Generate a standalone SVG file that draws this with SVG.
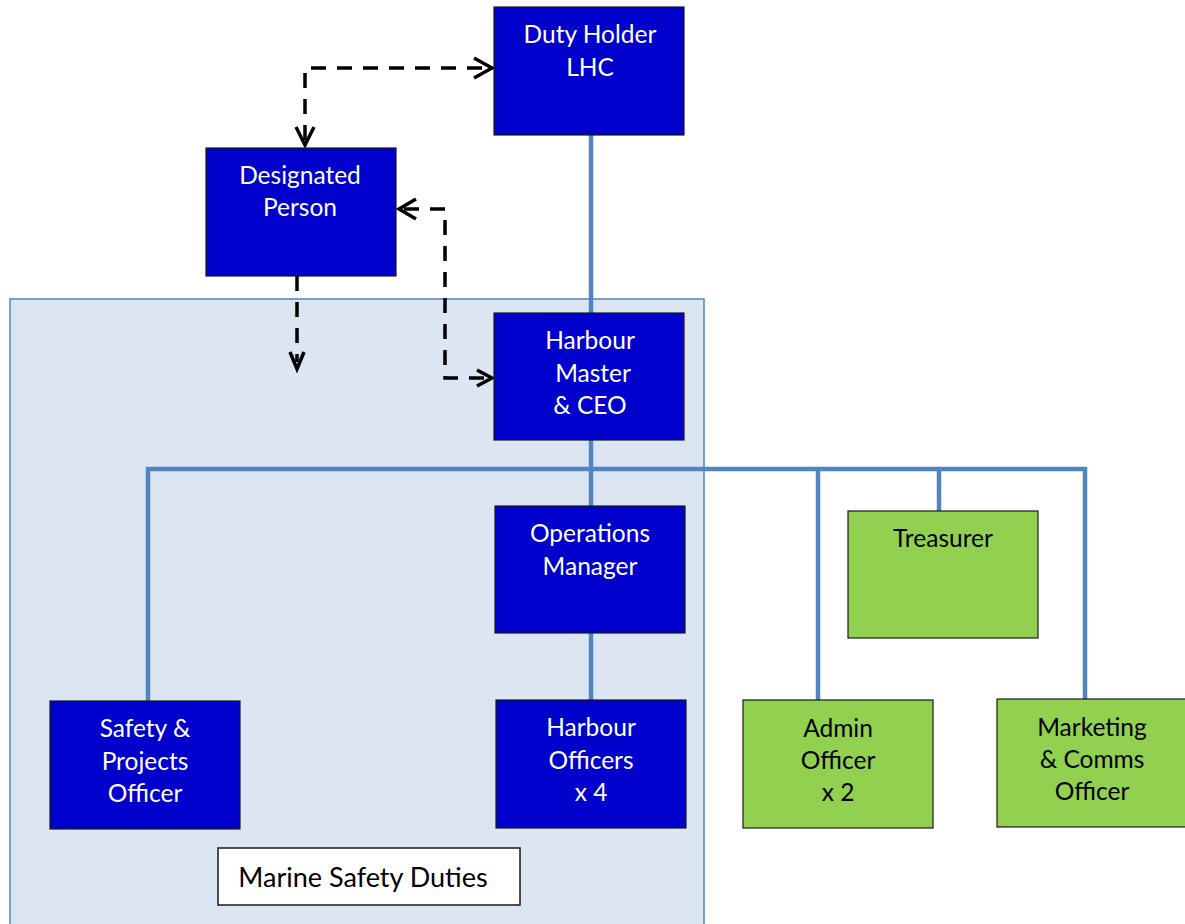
<svg xmlns="http://www.w3.org/2000/svg" width="1185" height="924" viewBox="0 0 1185 924">
<style>
.blue{fill:#0000cc;stroke:#1a1a1a;stroke-width:1.2}
.green{fill:#92d050;stroke:#1a1a1a;stroke-width:1.2}
.tw{fill:#ffffff;font-family:Lato,"Open Sans",sans-serif;font-size:24.5px;text-anchor:middle}
.tb{fill:#000000;font-family:Lato,"Open Sans",sans-serif;font-size:24.5px;text-anchor:middle}
.conn{stroke:#5284c0;stroke-width:4.5;fill:none}
.dash{stroke:#000;stroke-width:3.5;fill:none;stroke-dasharray:15 11}
.head{stroke:#000;stroke-width:3.5;fill:none}
</style>
<rect width="1185" height="924" fill="#ffffff"/>
<g id="marine-safety-area">
<rect x="10" y="299" width="694" height="640" fill="#dce6f2" stroke="#5284c0" stroke-width="1.5"/>
</g>
<g id="connectors">
<path class="conn" d="M591 135 V313"/>
<path class="conn" d="M591 440 V506"/>
<path class="conn" d="M148 701 V469 H1085 V699"/>
<path class="conn" d="M818 469 V700"/>
<path class="conn" d="M939 469 V511"/>
<path class="conn" d="M591 633 V700"/>
<path class="dash" d="M305 140 V68 H486"/>
<path class="head" d="M474 58 L492 68 L474 78"/>
<path class="head" d="M296 127 L305 145 L314 127"/>
<path class="dash" d="M404 209 H445 V378 H486"/>
<path class="head" d="M416 199 L399 209 L416 219"/>
<path class="head" d="M477 370 L492 378 L477 386"/>
<path class="dash" d="M297 276 V362"/>
<path class="head" d="M290 352 L297 369 L304 352"/>
</g>
<g id="duty-holder">
<rect class="blue" x="494" y="7" width="190" height="128"/>
<text class="tw" x="590" y="43">Duty Holder</text>
<text class="tw" x="590" y="76">LHC</text>
</g>
<g id="designated-person">
<rect class="blue" x="206" y="148" width="190" height="128"/>
<text class="tw" x="300" y="184">Designated</text>
<text class="tw" x="300" y="216">Person</text>
</g>
<g id="harbour-master">
<rect class="blue" x="494" y="313" width="190" height="127"/>
<text class="tw" x="590" y="349">Harbour</text>
<text class="tw" x="593" y="382">Master</text>
<text class="tw" x="590" y="414">&amp; CEO</text>
</g>
<g id="operations-manager">
<rect class="blue" x="495" y="506" width="190" height="127"/>
<text class="tw" x="590" y="542">Operations</text>
<text class="tw" x="590" y="575">Manager</text>
</g>
<g id="treasurer">
<rect class="green" x="848" y="511" width="190" height="127"/>
<text class="tb" x="943" y="547">Treasurer</text>
</g>
<g id="safety-projects-officer">
<rect class="blue" x="50" y="701" width="190" height="128"/>
<text class="tw" x="145" y="737">Safety &amp;</text>
<text class="tw" x="145" y="770">Projects</text>
<text class="tw" x="145" y="802">Officer</text>
</g>
<g id="harbour-officers">
<rect class="blue" x="496" y="700" width="190" height="128"/>
<text class="tw" x="591" y="736">Harbour</text>
<text class="tw" x="591" y="769">Officers</text>
<text class="tw" x="591" y="801">x 4</text>
</g>
<g id="admin-officer">
<rect class="green" x="743" y="700" width="190" height="128"/>
<text class="tb" x="838" y="737">Admin</text>
<text class="tb" x="838" y="769">Officer</text>
<text class="tb" x="838" y="801">x 2</text>
</g>
<g id="marketing-comms-officer">
<rect class="green" x="997" y="699" width="192" height="128"/>
<text class="tb" x="1092" y="736">Marketing</text>
<text class="tb" x="1092" y="768">&amp; Comms</text>
<text class="tb" x="1092" y="800">Officer</text>
</g>
<g id="marine-safety-duties">
<rect x="218" y="848" width="302" height="57" fill="#ffffff" stroke="#1a1a1a" stroke-width="1.5"/>
<text class="tb" x="363" y="887" style="font-size:27px">Marine Safety Duties</text>
</g>
</svg>
